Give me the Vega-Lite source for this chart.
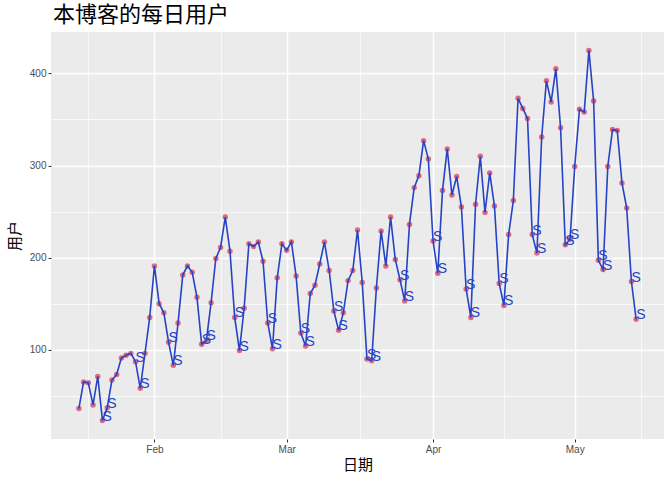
{
  "$schema": "https://vega.github.io/schema/vega-lite/v6.json",
  "autosize": "none",
  "width": 613,
  "height": 407,
  "padding": {"left": 51, "top": 32, "right": 8, "bottom": 41},
  "background": "white",
  "config": {
    "view": {"fill": "#EBEBEB", "stroke": null},
    "axis": {"labelFont": "Liberation Sans", "titleFont": "Noto Sans CJK SC"}
  },
  "title": {
    "text": "本博客的每日用户",
    "anchor": "start",
    "frame": "group",
    "font": "Noto Sans CJK SC",
    "fontSize": 22,
    "fontWeight": "normal",
    "color": "#000000",
    "offset": 5,
    "dx": 2
  },
  "data": {
    "values": [
      {"date": "2017-01-16", "users": 36}, {"date": "2017-01-17", "users": 65}, {"date": "2017-01-18", "users": 64},
      {"date": "2017-01-19", "users": 40}, {"date": "2017-01-20", "users": 71}, {"date": "2017-01-21", "users": 23},
      {"date": "2017-01-22", "users": 37}, {"date": "2017-01-23", "users": 67}, {"date": "2017-01-24", "users": 73},
      {"date": "2017-01-25", "users": 91}, {"date": "2017-01-26", "users": 94}, {"date": "2017-01-27", "users": 96},
      {"date": "2017-01-28", "users": 87}, {"date": "2017-01-29", "users": 58}, {"date": "2017-01-30", "users": 96},
      {"date": "2017-01-31", "users": 135}, {"date": "2017-02-01", "users": 191}, {"date": "2017-02-02", "users": 150},
      {"date": "2017-02-03", "users": 140}, {"date": "2017-02-04", "users": 108}, {"date": "2017-02-05", "users": 83},
      {"date": "2017-02-06", "users": 129}, {"date": "2017-02-07", "users": 181}, {"date": "2017-02-08", "users": 191},
      {"date": "2017-02-09", "users": 184}, {"date": "2017-02-10", "users": 157}, {"date": "2017-02-11", "users": 106},
      {"date": "2017-02-12", "users": 110}, {"date": "2017-02-13", "users": 151}, {"date": "2017-02-14", "users": 199},
      {"date": "2017-02-15", "users": 211}, {"date": "2017-02-16", "users": 244}, {"date": "2017-02-17", "users": 207},
      {"date": "2017-02-18", "users": 135}, {"date": "2017-02-19", "users": 99}, {"date": "2017-02-20", "users": 145},
      {"date": "2017-02-21", "users": 215}, {"date": "2017-02-22", "users": 212}, {"date": "2017-02-23", "users": 217},
      {"date": "2017-02-24", "users": 196}, {"date": "2017-02-25", "users": 129}, {"date": "2017-02-26", "users": 101},
      {"date": "2017-02-27", "users": 178}, {"date": "2017-02-28", "users": 215}, {"date": "2017-03-01", "users": 208},
      {"date": "2017-03-02", "users": 217}, {"date": "2017-03-03", "users": 180}, {"date": "2017-03-04", "users": 118},
      {"date": "2017-03-05", "users": 104}, {"date": "2017-03-06", "users": 161}, {"date": "2017-03-07", "users": 170},
      {"date": "2017-03-08", "users": 193}, {"date": "2017-03-09", "users": 217}, {"date": "2017-03-10", "users": 186},
      {"date": "2017-03-11", "users": 142}, {"date": "2017-03-12", "users": 121}, {"date": "2017-03-13", "users": 140},
      {"date": "2017-03-14", "users": 175}, {"date": "2017-03-15", "users": 186}, {"date": "2017-03-16", "users": 230},
      {"date": "2017-03-17", "users": 173}, {"date": "2017-03-18", "users": 90}, {"date": "2017-03-19", "users": 88},
      {"date": "2017-03-20", "users": 167}, {"date": "2017-03-21", "users": 229}, {"date": "2017-03-22", "users": 191},
      {"date": "2017-03-23", "users": 244}, {"date": "2017-03-24", "users": 198}, {"date": "2017-03-25", "users": 176},
      {"date": "2017-03-26", "users": 153}, {"date": "2017-03-27", "users": 236}, {"date": "2017-03-28", "users": 276},
      {"date": "2017-03-29", "users": 289}, {"date": "2017-03-30", "users": 327}, {"date": "2017-03-31", "users": 307},
      {"date": "2017-04-01", "users": 218}, {"date": "2017-04-02", "users": 183}, {"date": "2017-04-03", "users": 273},
      {"date": "2017-04-04", "users": 318}, {"date": "2017-04-05", "users": 268}, {"date": "2017-04-06", "users": 288},
      {"date": "2017-04-07", "users": 255}, {"date": "2017-04-08", "users": 166}, {"date": "2017-04-09", "users": 135},
      {"date": "2017-04-10", "users": 258}, {"date": "2017-04-11", "users": 310}, {"date": "2017-04-12", "users": 249},
      {"date": "2017-04-13", "users": 292}, {"date": "2017-04-14", "users": 256}, {"date": "2017-04-15", "users": 172},
      {"date": "2017-04-16", "users": 148}, {"date": "2017-04-17", "users": 225}, {"date": "2017-04-18", "users": 262},
      {"date": "2017-04-19", "users": 373}, {"date": "2017-04-20", "users": 362}, {"date": "2017-04-21", "users": 351},
      {"date": "2017-04-22", "users": 225}, {"date": "2017-04-23", "users": 205}, {"date": "2017-04-24", "users": 331},
      {"date": "2017-04-25", "users": 392}, {"date": "2017-04-26", "users": 369}, {"date": "2017-04-27", "users": 405},
      {"date": "2017-04-28", "users": 341}, {"date": "2017-04-29", "users": 214}, {"date": "2017-04-30", "users": 220},
      {"date": "2017-05-01", "users": 299}, {"date": "2017-05-02", "users": 361}, {"date": "2017-05-03", "users": 358},
      {"date": "2017-05-04", "users": 425}, {"date": "2017-05-05", "users": 370}, {"date": "2017-05-06", "users": 197},
      {"date": "2017-05-07", "users": 187}, {"date": "2017-05-08", "users": 299}, {"date": "2017-05-09", "users": 339},
      {"date": "2017-05-10", "users": 338}, {"date": "2017-05-11", "users": 281}, {"date": "2017-05-12", "users": 254},
      {"date": "2017-05-13", "users": 174}, {"date": "2017-05-14", "users": 133}
    ]
  },
  "resolve": {"axis": {"x": "independent", "y": "independent"}},
  "layer": [
    {
      "mark": {"type": "circle", "size": 30, "fill": "#de5468", "opacity": 0.85},
      "encoding": {
        "x": {
          "field": "date", "type": "temporal",
          "scale": {"type": "utc", "domain": [{"year": 2017, "month": 1, "date": 10, "hours": 2, "minutes": 24, "utc": true}, {"year": 2017, "month": 5, "date": 19, "hours": 21, "minutes": 36, "utc": true}]},
          "axis": {
            "orient": "bottom",
            "values": [
              {"year": 2017, "month": 1, "date": 18, "utc": true},
              {"year": 2017, "month": 2, "date": 15, "utc": true},
              {"year": 2017, "month": 3, "date": 16, "hours": 12, "utc": true},
              {"year": 2017, "month": 4, "date": 16, "utc": true},
              {"year": 2017, "month": 5, "date": 15, "utc": true}
            ],
            "grid": true, "gridColor": "#FFFFFF", "gridWidth": 0.7,
            "labels": false, "ticks": false, "domain": false, "title": null
          }
        },
        "y": {
          "field": "users", "type": "quantitative",
          "scale": {"domain": [3, 445], "nice": false, "zero": false},
          "axis": {
            "orient": "left",
            "values": [50, 150, 250, 350],
            "grid": true, "gridColor": "#FFFFFF", "gridWidth": 0.7,
            "labels": false, "ticks": false, "domain": false, "title": null
          }
        }
      }
    },
    {
      "mark": {"type": "line", "stroke": "#2643c6", "strokeWidth": 1.6},
      "encoding": {
        "x": {
          "field": "date", "type": "temporal",
          "scale": {"type": "utc", "domain": [{"year": 2017, "month": 1, "date": 10, "hours": 2, "minutes": 24, "utc": true}, {"year": 2017, "month": 5, "date": 19, "hours": 21, "minutes": 36, "utc": true}]},
          "axis": {
            "orient": "bottom",
            "values": [
              {"year": 2017, "month": 2, "date": 1, "utc": true},
              {"year": 2017, "month": 3, "date": 1, "utc": true},
              {"year": 2017, "month": 4, "date": 1, "utc": true},
              {"year": 2017, "month": 5, "date": 1, "utc": true}
            ],
            "labelExpr": "utcFormat(datum.value, '%b')",
            "grid": true, "gridColor": "#FFFFFF", "gridWidth": 1.4,
            "domain": false, "ticks": true, "tickColor": "#333333", "tickSize": 3,
            "labelColor": "#4D4D4D", "labelFontSize": 10, "labelPadding": 2,
            "title": "日期", "titleFontSize": 15, "titleFontWeight": "normal", "titleColor": "#000000", "titlePadding": 3
          }
        },
        "y": {
          "field": "users", "type": "quantitative",
          "scale": {"domain": [3, 445], "nice": false, "zero": false},
          "axis": {
            "orient": "left",
            "values": [100, 200, 300, 400],
            "grid": true, "gridColor": "#FFFFFF", "gridWidth": 1.4,
            "domain": false, "ticks": true, "tickColor": "#333333", "tickSize": 3,
            "labelColor": "#4D4D4D", "labelFontSize": 10, "labelPadding": 2,
            "title": "用户", "titleFontSize": 15, "titleFontWeight": "normal", "titleColor": "#000000", "titlePadding": 7
          }
        }
      }
    },
    {
      "transform": [{"filter": {"field": "date", "timeUnit": "utcday", "oneOf": [0, 6]}}],
      "mark": {"type": "text", "align": "left", "baseline": "alphabetic", "font": "Liberation Sans", "fontSize": 14, "color": "#2643c6"},
      "encoding": {
        "x": {"field": "date", "type": "temporal", "axis": null,
          "scale": {"type": "utc", "domain": [{"year": 2017, "month": 1, "date": 10, "hours": 2, "minutes": 24, "utc": true}, {"year": 2017, "month": 5, "date": 19, "hours": 21, "minutes": 36, "utc": true}]}},
        "y": {"field": "users", "type": "quantitative", "axis": null,
          "scale": {"domain": [3, 445], "nice": false, "zero": false}},
        "text": {"value": "S"}
      }
    }
  ]
}
